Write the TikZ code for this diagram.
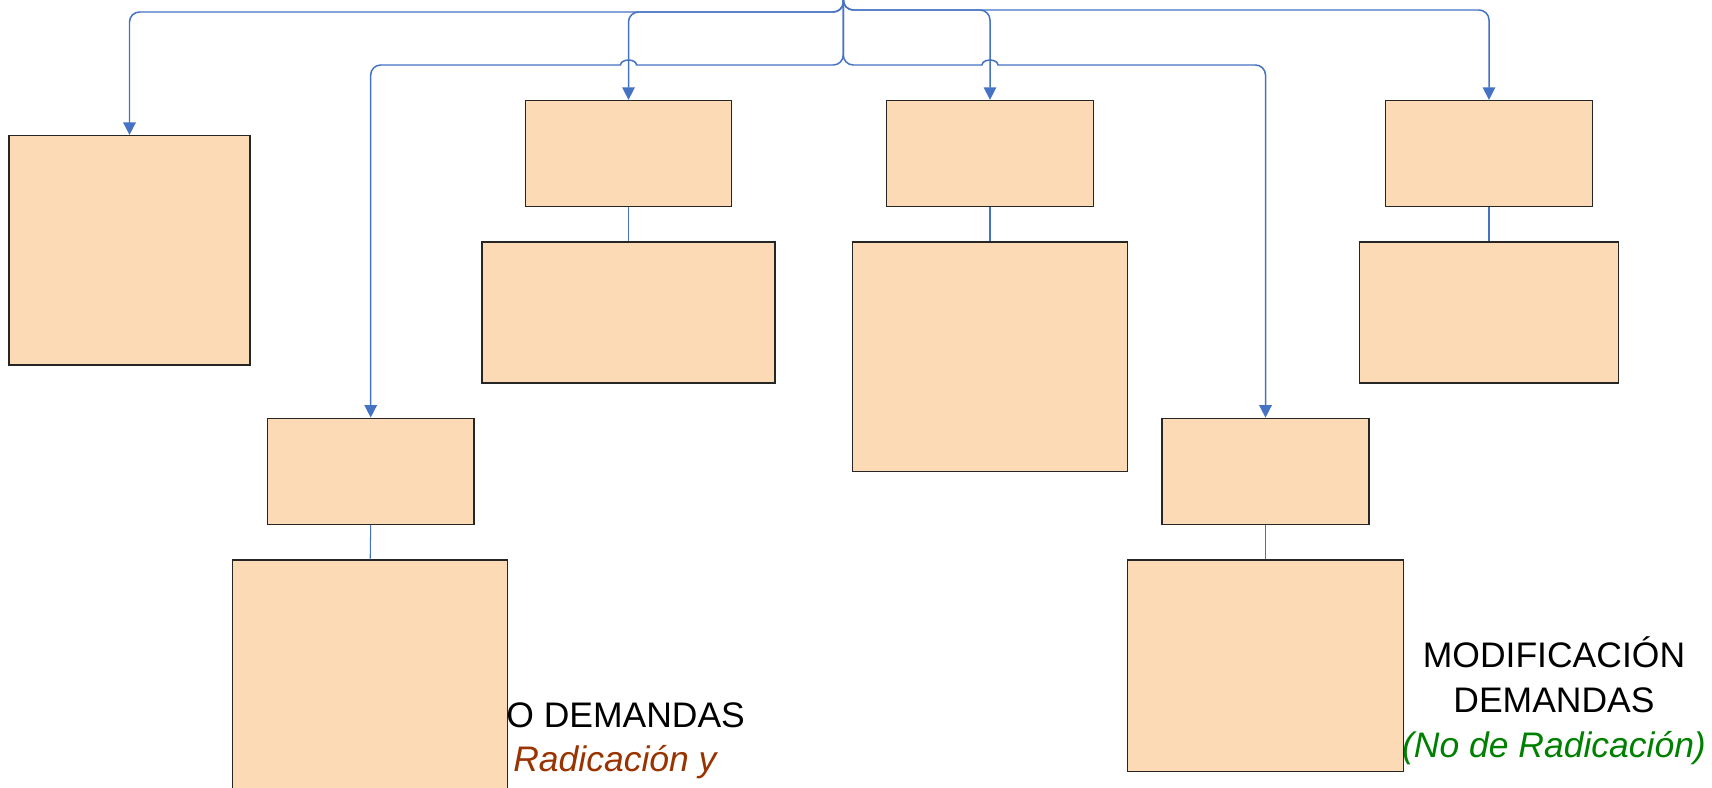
\documentclass[tikz,border=0pt]{standalone}
\usepackage{fontspec}
\setmainfont{Liberation Sans}
\usetikzlibrary{arrows.meta}
\definecolor{peach}{RGB}{253,218,182}
\definecolor{linkblue}{RGB}{68,114,196}
\definecolor{radbrown}{RGB}{153,51,0}
\definecolor{radgreen}{RGB}{0,128,0}

\begin{document}
\begin{tikzpicture}[x=0.02cm,y=0.02cm,>={Triangle[length=0.25cm,width=0.25cm]},
  box/.style={draw=black!85,line width=0.75pt,fill=peach,inner sep=0pt},
  link/.style={linkblue,line width=0.85pt,rounded corners=0.2cm},
  hoplink/.style={linkblue,line width=0.85pt},
  stem/.style={linkblue,line width=0.6pt},
  lbl/.style={font=\fontsize{20.2}{25.5}\selectfont,inner sep=0pt}]
  \useasboundingbox (0,0) rectangle (1712,-788);
  % texts behind the boxes
  \node[lbl,anchor=base west] (radL1) at (506,-727.7) {O DEMANDAS};
  \node[lbl,anchor=base west,text=radbrown,font=\fontsize{20.2}{25.5}\selectfont\itshape] (radL2) at (513,-771.7) {Radicación y};
  \node[lbl,align=center,anchor=base] (modR) at (1554,-757) {MODIFICACIÓN\\DEMANDAS\\{\color{radgreen}\itshape (No de Radicación)}};
  % boxes
  \node[box,minimum width=4.82cm,minimum height=4.59cm] (left) at (129.5,-250.3) {};
  \node[box,minimum width=4.13cm,minimum height=2.12cm] (aTop) at (628.5,-153.5) {};
  \node[box,minimum width=5.86cm,minimum height=2.82cm] (aLow) at (628.5,-312.5) {};
  \node[box,minimum width=4.13cm,minimum height=2.12cm] (bTop) at (990,-153.5) {};
  \node[box,minimum width=5.51cm,minimum height=4.59cm] (bLow) at (990,-356.6) {};
  \node[box,minimum width=4.13cm,minimum height=2.12cm] (cTop) at (1489,-153.5) {};
  \node[box,minimum width=5.17cm,minimum height=2.82cm] (cLow) at (1489,-312.5) {};
  \node[box,minimum width=4.13cm,minimum height=2.12cm] (dTop) at (370.7,-471.2) {};
  \node[box,minimum width=5.5cm,minimum height=4.6cm] (dLow) at (370.2,-675) {};
  \node[box,minimum width=4.14cm,minimum height=2.12cm] (eTop) at (1265.5,-471.3) {};
  \node[box,minimum width=5.52cm,minimum height=4.23cm] (eLow) at (1265.5,-665.8) {};
  % connectors
  \coordinate (src) at (843.3,0);
  \draw[link,->] (src) -- (843.3,-12) -- (left.north |- 0,-12) -- (left.north);
  \draw[link,->] (src) -- (843.3,-12) -- (aTop.north |- 0,-12) -- (aTop.north);
  \draw[link,->] (src) -- (843.3,-10) -- (bTop.north |- 0,-10) -- (bTop.north);
  \draw[link,->] (src) -- (843.3,-10) -- (cTop.north |- 0,-10) -- (cTop.north);
  % lower branch, hopping over the verticals
  \draw[hoplink,->] (src) -- (843.3,-55) arc[start angle=0,end angle=-90,radius=10]
    -- (636.5,-65) arc[start angle=0,end angle=180,x radius=8,y radius=5]
    -- (380.7,-65) arc[start angle=90,end angle=180,radius=10] -- (dTop.north);
  \draw[hoplink,->] (src) -- (843.3,-55) arc[start angle=180,end angle=270,radius=10]
    -- (982,-65) arc[start angle=180,end angle=0,x radius=8,y radius=5]
    -- (1255.5,-65) arc[start angle=90,end angle=0,radius=10] -- (eTop.north);
  \foreach \n in {a,b,c,d,e}
    \draw[stem] (\n Top.south) -- (\n Low.north);
\end{tikzpicture}
\end{document}
